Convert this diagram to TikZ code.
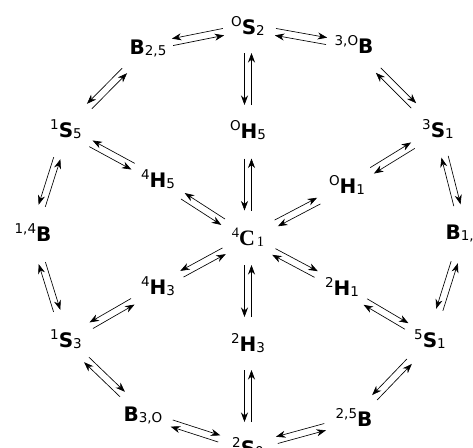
\documentclass[tikz,border=0pt]{standalone}
\usepackage{fontspec}
\setmainfont{DejaVu Sans}
\newfontfamily\serifC{Liberation Serif}
\usetikzlibrary{calc,arrows.meta}
\newcommand{\up}[1]{\raisebox{8pt}{\fontsize{13.5}{13.5}\selectfont\mdseries #1}}
\newcommand{\dn}[1]{\raisebox{-1pt}{\fontsize{13.5}{13.5}\selectfont\mdseries #1}}
\newcommand{\M}[1]{{\fontsize{20}{20}\selectfont\bfseries #1}}
% pair of opposite arrows, each on the left of its own direction
\newcommand{\pairL}[3]{%
  \draw[arr] ($(#1)!.5!(#2)!#3!(#1)!3.5pt!90:(#2)$) -- ($(#1)!.5!(#2)!#3!(#2)!3.5pt!-90:(#1)$);
  \draw[arr] ($(#1)!.5!(#2)!#3!(#2)!3.5pt!90:(#1)$) -- ($(#1)!.5!(#2)!#3!(#1)!3.5pt!-90:(#2)$);}
% pair of opposite arrows, each on the right of its own direction
\newcommand{\pairR}[3]{%
  \draw[arr] ($(#1)!.5!(#2)!#3!(#1)!3.5pt!-90:(#2)$) -- ($(#1)!.5!(#2)!#3!(#2)!3.5pt!90:(#1)$);
  \draw[arr] ($(#1)!.5!(#2)!#3!(#2)!3.5pt!-90:(#1)$) -- ($(#1)!.5!(#2)!#3!(#1)!3.5pt!90:(#2)$);}
\begin{document}
\begin{tikzpicture}[x=1pt,y=-1pt,
  lab/.style={inner sep=0pt, text height=14.5pt, text depth=0pt, anchor=center},
  arr/.style={line width=0.65pt, -{Stealth[length=9.5pt,width=7pt,inset=3pt]}}]
\useasboundingbox (0,0) rectangle (473,447);
\fill[white] (0,0) rectangle (473,447);
% nodes
\node[lab] (S2t)  at (248,27)  {\up{O}\M{S}\dn{2}};
\node[lab] (B25)  at (148,47)  {\M{B}\dn{2,5}};
\node[lab] (B3O)  at (354,46)  {\up{3,O}\M{B}};
\node[lab] (S15)  at (66,130)  {\up{1}\M{S}\dn{5}};
\node[lab] (H5O)  at (248,131) {\up{O}\M{H}\dn{5}};
\node[lab] (S31)  at (438,130) {\up{3}\M{S}\dn{1}};
\node[lab] (H54)  at (158,180) {\up{4}\M{H}\dn{5}};
\node[lab] (H1O)  at (347,186) {\up{O}\M{H}\dn{1}};
\node[lab] (B14)  at (33,234)  {\up{1,4}\M{B}};
\node[lab] (C41)  at (248,238) {\serifC\raisebox{7.5pt}{\fontsize{14.5}{14.5}\selectfont 4}{\fontsize{22}{22}\selectfont\bfseries C}\,\raisebox{-1pt}{\fontsize{14.5}{14.5}\selectfont 1}};
\node[lab] (B1x4) at (464,232) {\M{B}\dn{1,4}};
\node[lab] (H43)  at (158,287) {\up{4}\M{H}\dn{3}};
\node[lab] (H21)  at (342,288) {\up{2}\M{H}\dn{1}};
\node[lab] (S13)  at (66,340)  {\up{1}\M{S}\dn{3}};
\node[lab] (H32)  at (248,344) {\up{2}\M{H}\dn{3}};
\node[lab] (S51)  at (430,340) {\up{5}\M{S}\dn{1}};
\node[lab] (B3Ob) at (143,414) {\M{B}\dn{3,O}};
\node[lab] (B25b) at (354,419) {\up{2,5}\M{B}};
\node[lab] (S20)  at (248,448) {\up{2}\M{S}\dn{0}};
% outer ring
\pairR{S2t}{B25}{26pt}
\pairR{B25}{S15}{25pt}
\pairR{S15}{B14}{25pt}
\pairL{B14}{S13}{25pt}
\pairL{S13}{B3Ob}{25pt}
\pairL{B3Ob}{S20}{25pt}
\pairR{S20}{B25b}{25pt}
\pairR{B25b}{S51}{25pt}
\pairR{S51}{B1x4}{25pt}
\pairL{B1x4}{S31}{25pt}
\pairL{S31}{B3O}{25pt}
\pairL{B3O}{S2t}{26pt}
% spokes
\pairR{S2t}{H5O}{26pt}
\pairR{H5O}{C41}{26pt}
\pairR{C41}{H32}{26pt}
\pairR{H32}{S20}{26pt}
\pairR{S15}{H54}{24pt}
\pairR{H54}{C41}{24pt}
\pairR{C41}{H43}{24pt}
\pairR{H43}{S13}{24pt}
\pairL{C41}{H1O}{24pt}
\pairL{H1O}{S31}{24pt}
\pairL{C41}{H21}{24pt}
\pairL{H21}{S51}{24pt}
\end{tikzpicture}
\end{document}
